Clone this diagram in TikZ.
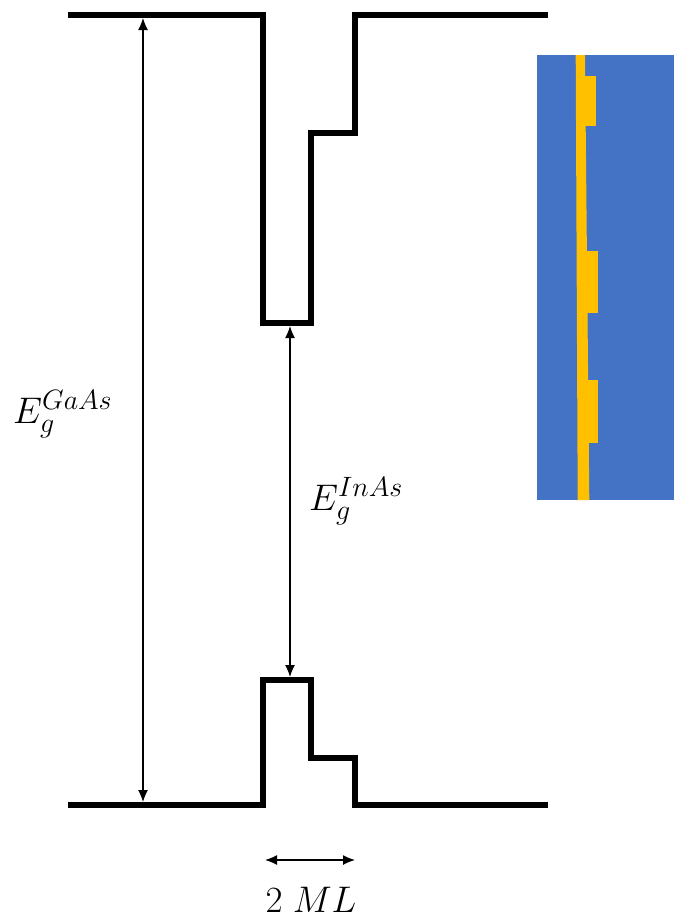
\RequirePackage{fix-cm}
\documentclass[tikz,border=0pt]{standalone}
\usetikzlibrary{arrows.meta}
\DeclareMathSizes{37}{37}{28}{20}
\begin{document}
\begin{tikzpicture}[x=1pt,y=-1pt,
  band/.style={line width=6pt,line join=miter},
  dimarrow/.style={line width=1.3pt,{Latex[length=12pt,width=10pt]}-{Latex[length=12pt,width=10pt]}},
  lbl/.style={font=\fontsize{37}{42}\selectfont,inner sep=0pt}]
\definecolor{officeblue}{HTML}{4472C4}
\definecolor{officegold}{HTML}{FFC000}
\useasboundingbox (0,0) rectangle (674,918);
% conduction band
\draw[band] (68,15) -- (263,15) -- (263,323) -- (311,323) -- (311,133) -- (354.5,133) -- (354.5,15) -- (548,15);
% valence band
\draw[band] (68,805) -- (263,805) -- (263,680) -- (311,680) -- (311,758) -- (354.5,758) -- (354.5,805) -- (548,805);
% coordinates for arrows
\coordinate (gtop) at (143,18);
\coordinate (gbot) at (143,802);
\coordinate (itop) at (290,326);
\coordinate (ibot) at (290,677);
\coordinate (mlL) at (265,860);
\coordinate (mlR) at (355,860);
\draw[dimarrow] (gtop) -- (gbot);
\draw[dimarrow] (itop) -- (ibot);
\draw[dimarrow] (mlL) -- (mlR);
\node[lbl,anchor=base west] (gaas) at (13,423) {$E_g^{GaAs}$};
\node[lbl,anchor=base west] (inas) at (309,510) {$E_g^{InAs}$};
\node[lbl,anchor=base] (ml) at (311,912) {$2\;ML$};
% inset
\fill[officeblue] (537,55) rectangle (674,500);
\fill[officegold] (575.7,55) -- (585,55) -- (589.3,500) -- (577.7,500) -- cycle;
\fill[officegold] (584,76) rectangle (595.7,126);
\fill[officegold] (585,250.7) rectangle (597.7,313);
\fill[officegold] (586,380) rectangle (598,443);
\end{tikzpicture}
\end{document}
